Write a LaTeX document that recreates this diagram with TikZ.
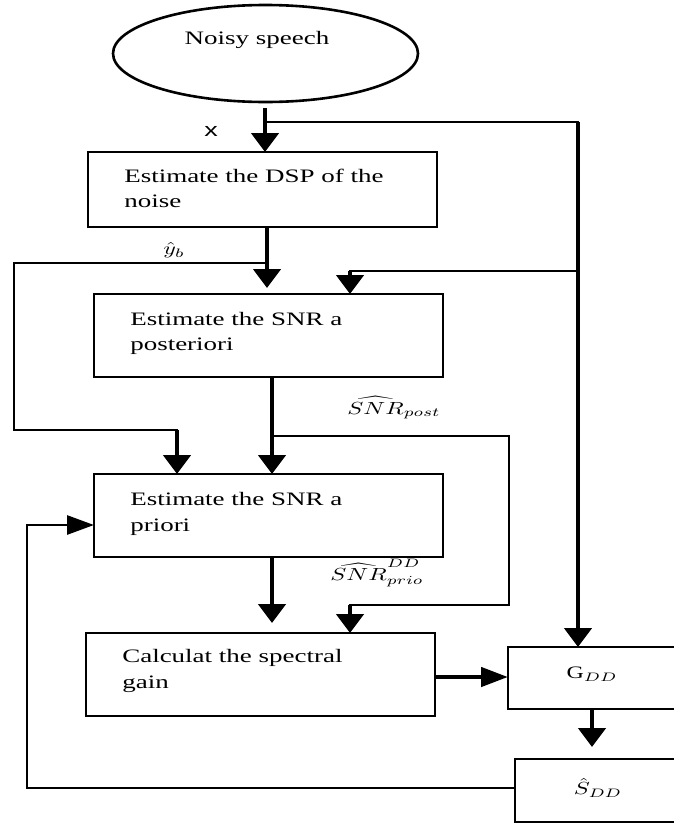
\documentclass[tikz,border=0pt]{standalone}
\usepackage{amsmath}
\usepackage{graphicx}
\usepackage{fontspec}
\setmainfont{Liberation Serif}
\newfontfamily\lsans{Liberation Sans}
\usetikzlibrary{arrows.meta,shapes.geometric}
\newcommand{\mscl}[1]{\scalebox{2.4}[1.75]{#1}}
\begin{document}
\begin{tikzpicture}[x=1pt,y=-1pt,
  boxbase/.style={draw, line width=2.6pt, rectangle, inner sep=0pt, outer sep=0pt},
  txt/.style={xscale=1.42, inner sep=0pt, font=\fontsize{19}{25.5}\selectfont, align=left},
  mlabel/.style={inner sep=0pt, font=\normalsize},
  thn/.style={line width=2.2pt, line cap=rect},
  med/.style={line width=2.8pt, line cap=rect},
  thk/.style={line width=4.5pt},
  vtip/.style={-{Triangle[length=19pt,width=27pt]}},
  htip/.style={-{Triangle[length=27pt,width=19pt]}},
]
\useasboundingbox (0,0) rectangle (674,825);
\clip (0,0) rectangle (674,825);

% source
\node[draw, ellipse, line width=2.6pt, minimum width=305pt, minimum height=97pt, inner sep=0pt] (src) at (265.5,53.5) {};
\node[txt] (srct) at (257,40) {Noisy speech};

% boxes
\node[boxbase, minimum width=349pt, minimum height=75pt] (b1) at (262.5,189.5) {};
\node[txt, anchor=west] (t1) at (124,188.5) {Estimate the DSP of the\\noise};
\node[boxbase, minimum width=349pt, minimum height=83pt] (b2) at (268.5,335.5) {};
\node[txt, anchor=west] (t2) at (130,333.5) {Estimate the SNR a\\posteriori};
\node[boxbase, minimum width=349pt, minimum height=83pt] (b3) at (268.5,515.5) {};
\node[txt, anchor=west] (t3) at (130,514) {Estimate the SNR a\\priori};
\node[boxbase, minimum width=349pt, minimum height=83pt] (b4) at (260.5,674.5) {};
\node[txt, anchor=west] (t4) at (122,671) {Calculat the spectral\\gain};
\node[boxbase, minimum width=200pt, minimum height=62pt] (g) at (608,678) {};
\node[mlabel] (gt) at (592,674) {\mscl{G$_{DD}$}};
\node[boxbase, minimum width=200pt, minimum height=63pt] (s) at (615,790.5) {};
\node[mlabel] (stx) at (598,788) {\mscl{$\hat{S}_{DD}$}};

% labels
\node[txt, font=\lsans\fontsize{19}{22}\selectfont] (xl) at (211,131) {x};
\node[mlabel] (yb) at (174,250) {\mscl{$\hat{y}_b$}};
\node[mlabel] (snrp) at (394,408) {\mscl{$\widehat{SNR}_{post}$}};
\node[mlabel] (snrd) at (377,573) {\mscl{$\widehat{SNR}^{DD}_{prio}$}};

% coordinates
\coordinate (a0) at (265,108);
\coordinate (a1) at (265,122);
\coordinate (r1) at (578,122);
\coordinate (r2) at (578,271);
\coordinate (a2) at (350,271);
\coordinate (c1) at (267,263);
\coordinate (e1) at (267,288);
\coordinate (l1) at (14,263);
\coordinate (l2) at (14,430);
\coordinate (l3) at (177,430);
\coordinate (c2) at (272,436);
\coordinate (m1) at (509,436);
\coordinate (m2) at (509,605);
\coordinate (m3) at (350,605);
\coordinate (e3) at (272,623);
\coordinate (h1) at (435,677);
\coordinate (v1) at (592,747);
\coordinate (q1) at (27,788);
\coordinate (q2) at (27,525);

% connectors
\draw[thk, vtip] (a0) -- (a0 |- b1.north);
\draw[thn] (a1) -- (r1);
\draw[thk, vtip] (r1) -- (r1 |- g.north);
\draw[thn] (r2) -- (a2);
\draw[thk, vtip] (a2) -- (a2 |- b2.north);

\draw[thk, vtip] (b1.south -| c1) -- (e1);
\draw[med] (c1) -- (l1) -- (l2) -- (l3);
\draw[thk, vtip] (l3) -- (l3 |- b3.north);

\draw[thk, vtip] (b2.south -| c2) -- (c2 |- b3.north);
\draw[med] (c2) -- (m1) -- (m2) -- (m3);
\draw[thk, vtip] (m3) -- (m3 |- b4.north);

\draw[thk, vtip] (b3.south -| e3) -- (e3);
\draw[thk, htip] (h1) -- (h1 -| g.west);
\draw[thk, vtip] (v1 |- g.south) -- (v1);

\draw[med] (q1 -| s.west) -- (q1) -- (q2);
\draw[med, htip] (q2) -- (q2 -| b3.west);
\end{tikzpicture}
\end{document}
